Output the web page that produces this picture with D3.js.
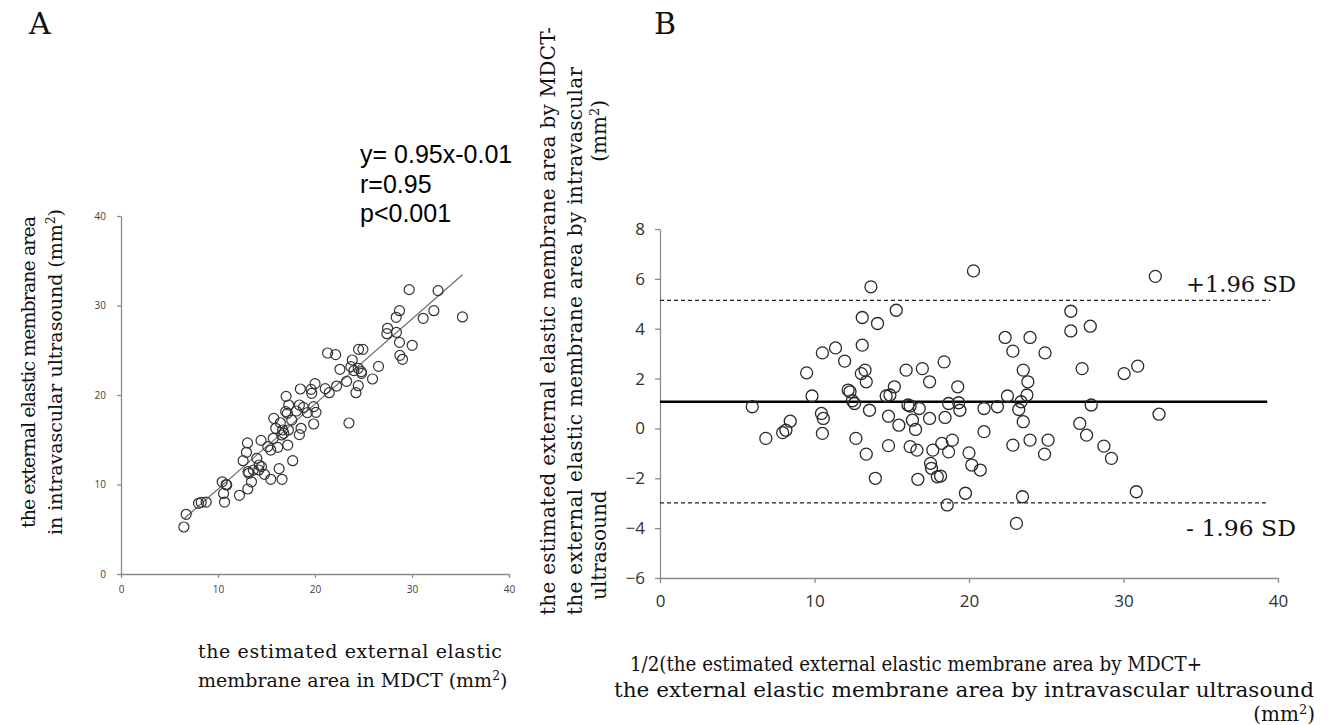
<!DOCTYPE html>
<html>
<head>
<meta charset="utf-8">
<script src="https://cdn.jsdelivr.net/npm/d3@7"></script>
<style>
  body { margin: 0; background: #fff; }
  svg { display: block; }
  .tickA text { font-family: "Open Sans", sans-serif; font-size: 10px; fill: #404040; }
  .tickB text { font-family: "Open Sans", sans-serif; font-size: 17px; fill: #303030; }
  .domain, .tick line { stroke: #8a8a8a; stroke-width: 1.3; }
  .serif { font-family: "DejaVu Serif", serif; fill: #111; }
</style>
</head>
<body>
<div id="chart"></div>
<script>
// panel A: MDCT estimate (x) vs IVUS (y)
let mdctA = [6.48, 6.72, 7.99, 8.27, 8.78, 10.43, 10.84, 10.9, 10.57, 10.67, 12.21, 13.07, 13.45, 13.1, 13.17, 12.59, 12.93, 13.04, 14.0, 14.2,
  14.48, 14.79, 14.44, 15.13, 15.44, 16.3, 16.6, 17.7, 15.44, 15.7, 16.16, 15.75, 15.95, 16.43, 16.67, 16.57, 16.78, 17.26, 17.19, 17.02,
  16.98, 17.15, 17.29, 18.08, 18.39, 18.49, 18.56, 18.39, 18.8, 19.21, 19.59, 19.66, 20.0, 19.86, 20.1, 19.86, 21.06, 21.47, 21.3, 22.13,
  22.23, 22.57, 23.26, 23.5, 23.84, 23.7, 24.01, 24.46, 24.77, 24.49, 24.94, 24.8, 24.46, 24.22, 25.93, 26.55, 27.48, 27.41, 28.4, 28.37,
  28.71, 28.71, 28.75, 29.02, 30.02, 29.71, 31.15, 32.25, 32.69, 35.2, 17.6, 13.65, 14.24];
let ivusA = [5.25, 6.67, 7.9, 8.0, 8.04, 10.3, 10.0, 9.95, 9.0, 8.04, 8.79, 9.5, 10.3, 11.43, 11.25, 12.66, 13.6, 14.64, 12.92, 11.62,
  12.0, 11.14, 14.93, 14.23, 10.58, 11.77, 10.58, 12.66, 13.85, 15.16, 14.15, 17.39, 16.28, 16.9, 16.09, 15.53, 15.72, 16.09, 14.41, 19.85,
  18.14, 17.95, 18.88, 18.21, 18.88, 20.67, 16.28, 15.57, 18.62, 18.03, 20.63, 20.19, 21.27, 18.7, 18.06, 16.76, 20.71, 20.26, 24.69, 24.51,
  21.0, 22.87, 21.53, 16.87, 23.91, 23.17, 22.72, 22.98, 22.61, 25.1, 25.1, 22.42, 21.04, 20.26, 21.79, 23.2, 27.45, 26.85, 27.0, 28.68,
  29.42, 25.88, 24.43, 23.99, 25.55, 31.77, 28.57, 29.42, 31.66, 28.72, 17.2, 11.62, 12.18];
let slopeA = 0.95, interceptA = -0.01;
let statsA = ["y= 0.95x-0.01", "r=0.95", "p<0.001"];
let ticksA = [0, 10, 20, 30, 40];

// panel B: Bland-Altman, mean (x) vs difference (y)
let meanB = [5.97, 6.85, 7.94, 8.15, 8.43, 9.49, 9.84, 10.51, 10.45, 10.57, 10.51, 11.36, 11.95, 12.18, 12.3, 12.45, 12.59, 12.68, 13.03, 13.27,
  13.09, 13.09, 13.65, 14.08, 13.35, 13.56, 13.35, 13.94, 14.64, 14.88, 15.17, 15.29, 14.79, 14.79, 15.46, 15.93, 16.05, 16.19, 16.34, 16.54,
  16.19, 16.63, 16.69, 16.98, 16.78, 17.45, 17.45, 17.66, 17.51, 17.57, 17.95, 18.16, 18.39, 18.45, 18.24, 18.68, 18.68, 18.92, 18.59, 19.27,
  19.33, 19.41, 19.77, 20.0, 20.18, 20.29, 20.73, 20.97, 20.97, 21.84, 22.34, 22.49, 22.84, 22.84, 23.07, 23.22, 23.37, 23.51, 23.51, 23.46,
  23.81, 23.75, 23.95, 23.95, 24.92, 25.12, 24.89, 26.59, 26.59, 27.32, 27.17, 27.61, 27.85, 27.91, 28.73, 29.22, 30.04, 30.92, 30.83, 32.06, 32.3];
let diffB = [0.87, -0.4, -0.17, -0.07, 0.29, 2.23, 1.3, 3.03, 0.6, 0.4, -0.2, 3.23, 2.7, 1.54, 1.47, 1.11, 1.0, -0.4, 2.2, 2.34,
  3.34, 4.45, 5.68, 4.21, 1.87, 0.73, -1.03, -2.0, 1.3, 1.34, 1.67, 4.74, 0.49, -0.69, 0.13, 2.34, 0.94, 0.9, 0.33, -0.04,
  -0.73, -0.87, -2.04, 2.4, 0.8, 1.87, 0.4, -0.87, -1.4, -1.6, -1.94, -1.91, 2.67, 0.44, -0.6, 1.0, -0.94, -0.47, -3.07, 1.67,
  1.03, 0.73, -2.6, -0.98, -1.47, 6.32, -1.67, -0.13, 0.8, 0.87, 3.65, 1.3, 3.1, -0.67, -3.81, 0.76, 1.07, 2.34, 0.27, -2.74,
  1.87, 1.34, 3.65, -0.47, 3.03, -0.47, -1.03, 4.7, 3.91, 2.4, 0.2, -0.27, 4.1, 0.94, -0.71, -1.2, 2.2, 2.5, -2.54, 6.1, 0.57];
let meanDiff = 1.07, upperLoA = 5.14, lowerLoA = -2.99;
let ticksBx = [0, 10, 20, 30, 40];
let ticksBy = [-6, -4, -2, 0, 2, 4, 6, 8];

let svg = d3.select("#chart").append("svg")
  .attr("width", 1331)
  .attr("height", 725);

// superscript (mm2) helper
function mm2(sel, fs) {
  sel.append("tspan").text("(mm");
  sel.append("tspan").attr("dy", -fs * 0.35).style("font-size", (fs * 0.65) + "px").text("2");
  sel.append("tspan").attr("dy", fs * 0.35).text(")");
}

// ---------- panel A ----------
let xA = d3.scaleLinear().domain([0, 40]).range([121, 509]);
let yA = d3.scaleLinear().domain([0, 40]).range([574, 216]);

svg.append("g").attr("class", "tickA")
  .attr("transform", "translate(0," + yA(0) + ")")
  .call(d3.axisBottom(xA).tickValues(ticksA).tickSize(4).tickSizeOuter(0).tickPadding(8));
svg.append("g").attr("class", "tickA")
  .attr("transform", "translate(" + xA(0) + ",0)")
  .call(d3.axisLeft(yA).tickValues(ticksA).tickSize(4).tickSizeOuter(0).tickPadding(11));

let x0 = d3.min(mdctA), x1 = d3.max(mdctA);
svg.append("line")
  .attr("x1", xA(x0)).attr("y1", yA(slopeA * x0 + interceptA))
  .attr("x2", xA(x1)).attr("y2", yA(slopeA * x1 + interceptA))
  .attr("stroke", "#707070").attr("stroke-width", 1.3);

svg.append("g").selectAll("circle")
  .data(mdctA)
  .enter()
  .append("circle")
  .attr("cx", function (d) { return xA(d); })
  .attr("cy", function (d, i) { return yA(ivusA[i]); })
  .attr("r", 5)
  .attr("fill", "none")
  .attr("stroke", "#333")
  .attr("stroke-width", 1.2);

svg.append("g").selectAll("text")
  .data(statsA)
  .enter()
  .append("text")
  .attr("x", 360)
  .attr("y", function (d, i) { return 163 + i * 29.5; })
  .style("font-family", "'Liberation Sans', Arial, sans-serif")
  .style("font-size", "25px")
  .text(function (d) { return d; });

svg.append("text").attr("class", "serif")
  .attr("x", 29).attr("y", 34)
  .style("font-size", "30px")
  .text("A");

let ylabA = svg.append("g").attr("transform", "translate(0,372) rotate(-90)");
ylabA.append("text").attr("class", "serif")
  .attr("x", 0).attr("y", 35)
  .attr("text-anchor", "middle")
  .style("font-size", "19px")
  .attr("textLength", 312).attr("lengthAdjust", "spacing")
  .text("the external elastic membrane area");
ylabA.append("text").attr("class", "serif")
  .attr("x", 0).attr("y", 62)
  .attr("text-anchor", "middle")
  .style("font-size", "19px")
  .attr("textLength", 326).attr("lengthAdjust", "spacing")
  .call(function (t) { t.append("tspan").text("in intravascular ultrasound "); mm2(t, 19); });

svg.append("text").attr("class", "serif")
  .attr("x", 198).attr("y", 658)
  .style("font-size", "19px")
  .attr("textLength", 304).attr("lengthAdjust", "spacing")
  .text("the estimated external elastic");
svg.append("text").attr("class", "serif")
  .attr("x", 198).attr("y", 687)
  .style("font-size", "19px")
  .call(function (t) { t.append("tspan").text("membrane area in MDCT "); mm2(t, 19); });

// ---------- panel B ----------
let xB = d3.scaleLinear().domain([0, 40]).range([660, 1278]);
let yB = d3.scaleLinear().domain([-6, 8]).range([578, 229]);

svg.append("g").attr("class", "tickB")
  .attr("transform", "translate(0," + yB(-6) + ")")
  .call(d3.axisBottom(xB).tickValues(ticksBx).tickSize(5).tickSizeOuter(0).tickPadding(12));
svg.append("g").attr("class", "tickB")
  .attr("transform", "translate(" + xB(0) + ",0)")
  .call(d3.axisLeft(yB).tickValues(ticksBy).tickSize(5).tickSizeOuter(0).tickPadding(10));

svg.append("line")
  .attr("x1", xB(0)).attr("x2", xB(39.5))
  .attr("y1", yB(upperLoA)).attr("y2", yB(upperLoA))
  .attr("stroke", "#222").attr("stroke-width", 1.2).attr("stroke-dasharray", "4,3");
svg.append("line")
  .attr("x1", xB(0)).attr("x2", xB(39.3))
  .attr("y1", yB(lowerLoA)).attr("y2", yB(lowerLoA))
  .attr("stroke", "#222").attr("stroke-width", 1.2).attr("stroke-dasharray", "4,3");
svg.append("line")
  .attr("x1", xB(0)).attr("x2", xB(39.3))
  .attr("y1", yB(meanDiff)).attr("y2", yB(meanDiff))
  .attr("stroke", "#000").attr("stroke-width", 2.6);

svg.append("g").selectAll("circle")
  .data(meanB)
  .enter()
  .append("circle")
  .attr("cx", function (d) { return xB(d); })
  .attr("cy", function (d, i) { return yB(diffB[i]); })
  .attr("r", 6)
  .attr("fill", "none")
  .attr("stroke", "#2a2a2a")
  .attr("stroke-width", 1.3);

svg.append("text").attr("class", "serif")
  .attr("x", 1186).attr("y", 292)
  .style("font-size", "23px")
  .attr("textLength", 110).attr("lengthAdjust", "spacingAndGlyphs")
  .text("+1.96 SD");
svg.append("text").attr("class", "serif")
  .attr("x", 1186).attr("y", 536)
  .style("font-size", "23px")
  .attr("textLength", 110).attr("lengthAdjust", "spacingAndGlyphs")
  .text("- 1.96 SD");

svg.append("text").attr("class", "serif")
  .attr("x", 654).attr("y", 34)
  .style("font-size", "30px")
  .text("B");

let ylabB = svg.append("g").attr("transform", "translate(0,615) rotate(-90)");
ylabB.append("text").attr("class", "serif")
  .attr("x", 0).attr("y", 555)
  .style("font-size", "20px")
  .attr("textLength", 588).attr("lengthAdjust", "spacing")
  .text("the estimated external elastic membrane area by MDCT-");
ylabB.append("text").attr("class", "serif")
  .attr("x", 0).attr("y", 582)
  .style("font-size", "20px")
  .attr("textLength", 548).attr("lengthAdjust", "spacing")
  .text("the external elastic membrane area by intravascular");
ylabB.append("text").attr("class", "serif")
  .attr("x", 15).attr("y", 606)
  .style("font-size", "20px")
  .text("ultrasound");
ylabB.append("text").attr("class", "serif")
  .attr("x", 515).attr("y", 606)
  .attr("text-anchor", "end")
  .style("font-size", "20px")
  .call(function (t) { mm2(t, 20); });

svg.append("text").attr("class", "serif")
  .attr("x", 630).attr("y", 671)
  .style("font-size", "20px")
  .attr("textLength", 572).attr("lengthAdjust", "spacingAndGlyphs")
  .text("1/2(the estimated external elastic membrane area by MDCT+");
svg.append("text").attr("class", "serif")
  .attr("x", 614).attr("y", 697)
  .style("font-size", "21px")
  .attr("textLength", 700).attr("lengthAdjust", "spacingAndGlyphs")
  .text("the external elastic membrane area by intravascular ultrasound");
svg.append("text").attr("class", "serif")
  .attr("x", 1315).attr("y", 721)
  .attr("text-anchor", "end")
  .style("font-size", "20px")
  .call(function (t) { mm2(t, 20); });
</script>
</body>
</html>
